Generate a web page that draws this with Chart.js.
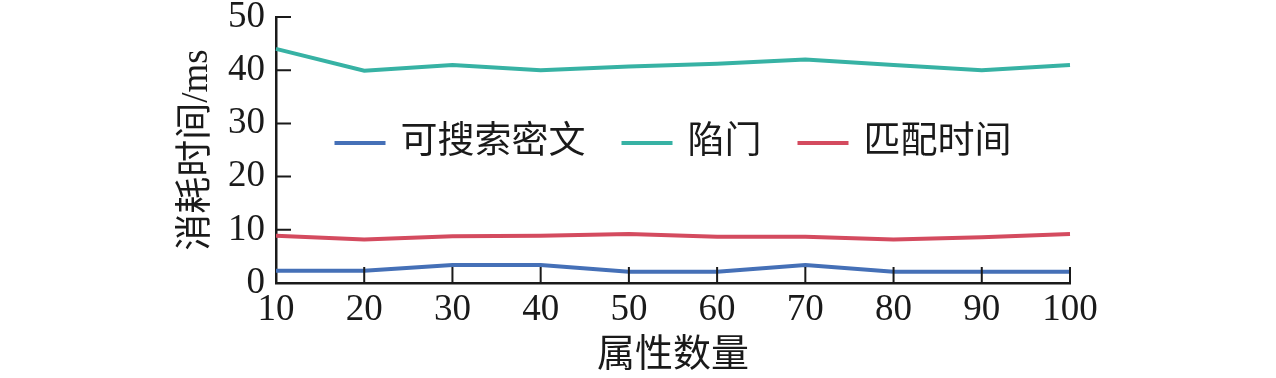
<!DOCTYPE html>
<html>
<head>
<meta charset="utf-8">
<script src="https://cdn.jsdelivr.net/npm/chart.js@4/dist/chart.umd.min.js"></script>
<style>
  html, body { margin: 0; padding: 0; background: #fff; }
  #wrap { width: 1276px; height: 378px; }
</style>
</head>
<body>
<div id="wrap"><canvas id="lineChart" width="1276" height="378"></canvas></div>
<script>
// 属性数量 on x, 消耗时间/ms on y
const attrCounts = ['10', '20', '30', '40', '50', '60', '70', '80', '90', '100'];
const searchCipher = [2.3, 2.3, 3.4, 3.4, 2.1, 2.1, 3.4, 2.1, 2.1, 2.1];
const trapdoor = [44.0, 39.9, 41.0, 40.0, 40.7, 41.2, 42.0, 41.0, 40.0, 41.0];
const matchTime = [8.9, 8.2, 8.8, 8.9, 9.2, 8.7, 8.7, 8.2, 8.6, 9.2];
const seriesNames = ['可搜索密文', '陷门', '匹配时间'];
const seriesColors = ['#4570b7', '#37b2a4', '#d44b5f'];
const yTicks = [0, 10, 20, 30, 40, 50];

const serifFont = '"Liberation Serif", "Noto Sans CJK SC", serif';
const axisColor = '#1a1a1a';

let ctx = document.getElementById('lineChart');

const makeSeries = (label, data, color) => {
    return {
        label: label,
        data: data,
        borderColor: color,
        backgroundColor: color,
        borderWidth: 4,
        pointRadius: 0,
        tension: 0,
        fill: false
    }
}

// ticks point into the plot area, so draw them here from the scales
const innerTicks = {
    id: 'innerTicks',
    afterDatasetsDraw(chart) {
        const c = chart.ctx;
        const area = chart.chartArea;
        const xs = chart.scales.x;
        const ys = chart.scales.y;
        c.save();
        c.strokeStyle = axisColor;
        c.lineWidth = 2;
        c.beginPath();
        yTicks.forEach(function (v) {
            let y = ys.getPixelForValue(v);
            c.moveTo(area.left, y);
            c.lineTo(area.left + 15, y);
        });
        attrCounts.forEach(function (lab, i) {
            if (i === 0) return;
            let x = xs.getPixelForValue(i);
            c.moveTo(x, area.bottom);
            c.lineTo(x, area.bottom - 16);
        });
        c.stroke();
        c.restore();
    }
}

// one-row legend placed inside the plot, centred on it
const innerLegend = {
    id: 'innerLegend',
    afterDatasetsDraw(chart) {
        const c = chart.ctx;
        const area = chart.chartArea;
        const lineLen = 51, textGap = 15, itemGap = 36;
        c.save();
        c.font = '37px ' + serifFont;
        c.textBaseline = 'middle';
        let widths = chart.data.datasets.map(ds => c.measureText(ds.label).width);
        let total = 0;
        widths.forEach(function (w, i) {
            total += lineLen + textGap + w + (i > 0 ? itemGap : 0);
        });
        let x = (area.left + area.right) / 2 - total / 2;
        let y = area.top + 126;
        chart.data.datasets.forEach(function (ds, i) {
            c.strokeStyle = ds.borderColor;
            c.lineWidth = 4;
            c.beginPath();
            c.moveTo(x, y);
            c.lineTo(x + lineLen, y);
            c.stroke();
            c.fillStyle = '#1a1a1a';
            c.fillText(ds.label, x + lineLen + textGap, y);
            x += lineLen + textGap + widths[i] + itemGap;
        });
        c.restore();
    }
}

const renderChart = () => {
    new Chart(ctx, {
        type: 'line',
        data: {
            labels: attrCounts,
            datasets: [
                makeSeries(seriesNames[0], searchCipher, seriesColors[0]),
                makeSeries(seriesNames[1], trapdoor, seriesColors[1]),
                makeSeries(seriesNames[2], matchTime, seriesColors[2])
            ]
        },
        options: {
            responsive: false,
            animation: false,
            layout: { padding: { left: 179, right: 206, top: 17, bottom: 0 } },
            plugins: {
                legend: { display: false },
                tooltip: { enabled: false }
            },
            scales: {
                x: {
                    offset: false,
                    grid: { display: false, drawTicks: false },
                    border: { display: true, color: axisColor, width: 2.5 },
                    afterFit: function (scale) { scale.height = 95; },
                    ticks: {
                        color: '#1a1a1a',
                        padding: 9,
                        maxRotation: 0,
                        autoSkip: false,
                        font: { family: serifFont, size: 37, lineHeight: 1 }
                    },
                    title: {
                        display: true,
                        text: '属性数量',
                        color: '#1a1a1a',
                        padding: { top: 6, bottom: 3 },
                        font: { family: serifFont, size: 38, lineHeight: 1 }
                    }
                },
                y: {
                    min: 0,
                    max: 50,
                    grid: { display: false, drawTicks: false },
                    border: { display: true, color: axisColor, width: 2.5 },
                    afterFit: function (scale) {
                        scale.width = 97;
                        scale.paddingTop = 0;
                    },
                    ticks: {
                        stepSize: 10,
                        color: '#1a1a1a',
                        padding: 11,
                        font: { family: serifFont, size: 37, lineHeight: 0.5 }
                    },
                    title: {
                        display: true,
                        text: '消耗时间/ms',
                        color: '#1a1a1a',
                        padding: { top: 0, bottom: 0 },
                        font: { family: serifFont, size: 37, lineHeight: 1 }
                    }
                }
            }
        },
        plugins: [innerTicks, innerLegend]
    });
}

renderChart();
</script>
</body>
</html>
